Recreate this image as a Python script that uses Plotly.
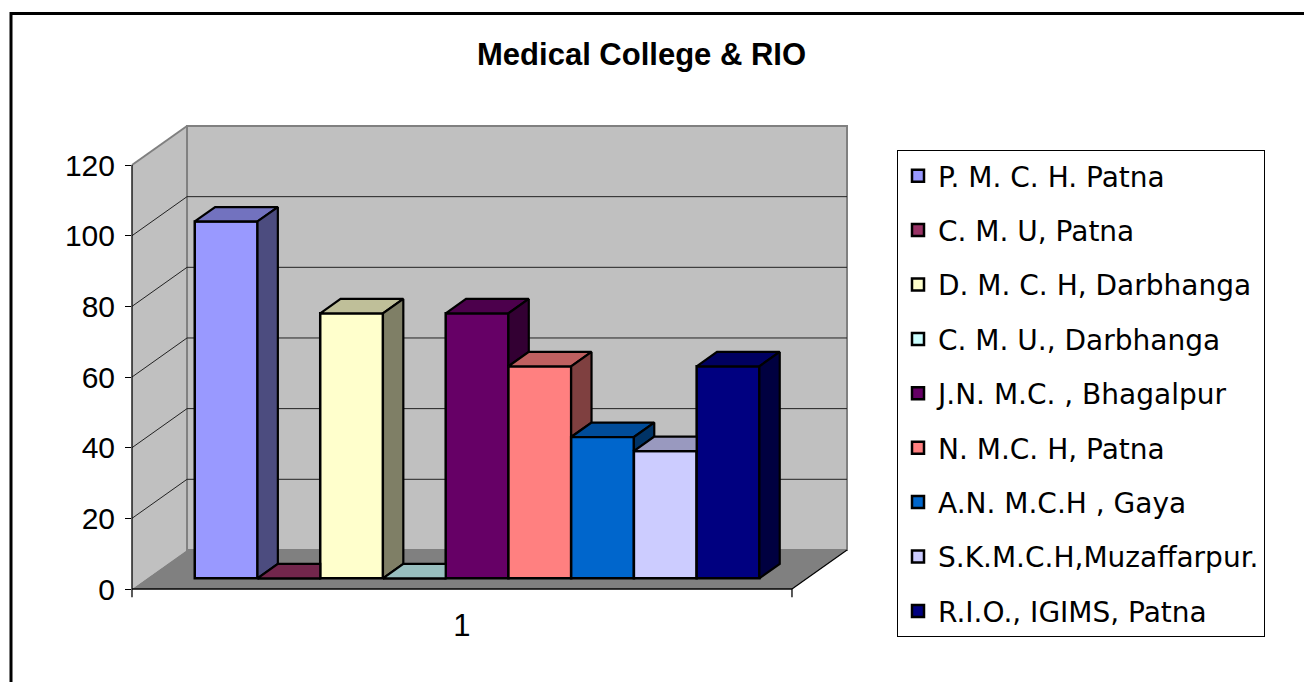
import plotly.graph_objects as go

# ---------------- data ----------------
categories = ["1"]
series_names = [
    "P. M. C. H. Patna",
    "C. M. U, Patna",
    "D. M. C. H, Darbhanga",
    "C. M. U., Darbhanga",
    "J.N. M.C. , Bhagalpur",
    "N. M.C. H, Patna",
    "A.N. M.C.H , Gaya",
    "S.K.M.C.H,Muzaffarpur.",
    "R.I.O., IGIMS, Patna",
]
values = [101, 0, 75, 0, 75, 60, 40, 36, 60]
colors = ["#9999FF", "#993366", "#FFFFCC", "#CCFFFF", "#660066",
          "#FF8080", "#0066CC", "#CCCCFF", "#000080"]
y_ticks = [0, 20, 40, 60, 80, 100, 120]
Y_MAX = 120

# ---------------- 3-D geometry (in axis units) ----------------
N = len(values)
GAP = 0.76                 # gap each side of the bar cluster (bar widths)
W = N + 2 * GAP            # category width on the floor front edge
DX, DY = 0.877, 11.05      # full floor depth vector (x units, value units)
F1, F2 = 0.274, 0.644      # front / back depth fraction of the bars
XR = W + DX
YR = Y_MAX + DY

bx, by = F1 * DX, F1 * DY
ddx, ddy = (F2 - F1) * DX, (F2 - F1) * DY


def shade(hexcol, k):
    h = hexcol.lstrip("#")
    r, g, b = (int(h[i:i + 2], 16) for i in (0, 2, 4))
    return "#%02X%02X%02X" % (int(r * k), int(g * k), int(b * k))


def P(x, v):
    return x / XR, v / YR


def path(pts):
    s = ""
    for j, (x, v) in enumerate(pts):
        px, py = P(x, v)
        s += ("M" if j == 0 else "L") + f"{px:.5f},{py:.5f}"
    return s + "Z"


fig = go.Figure()

# front faces (real bars, through the axes)
for i, (name, v, c) in enumerate(zip(series_names, values, colors)):
    xl = GAP + i + bx
    fig.add_trace(go.Bar(
        x=[xl + 0.5], y=[v], base=by, width=1, name=name,
        legendgroup=name,
        marker=dict(color=c, line=dict(color="black", width=2.5)),
        hoverinfo="name+y",
    ))

# top and side faces, derived from the same values
for i, (name, v, c) in enumerate(zip(series_names, values, colors)):
    xl = GAP + i + bx
    xr = xl + 1
    h = by + v
    nxt = values[i + 1] if i + 1 < N else 0
    if i + 1 < N and nxt > v:
        top = [(xl, h), (xr, h), (xr, h + ddy), (xl + ddx, h + ddy)]
    else:
        top = [(xl, h), (xr, h), (xr + ddx, h + ddy), (xl + ddx, h + ddy)]
    faces = [(top, shade(c, 0.75))]
    if v > nxt:
        low = by + nxt
        side = [(xr, low), (xr, h), (xr + ddx, h + ddy), (xr + ddx, low + ddy)]
        faces.append((side, shade(c, 0.5)))
    for poly, fc in faces:
        xs = [p[0] for p in poly] + [poly[0][0]]
        ys = [p[1] for p in poly] + [poly[0][1]]
        fig.add_trace(go.Scatter(
            x=xs, y=ys, mode="lines", fill="toself", fillcolor=fc,
            line=dict(color="black", width=2.2), showlegend=False,
            hoverinfo="skip", legendgroup=name,
        ))

# walls, floor, gridlines (decoration in paper coords)
shapes = []
WALL = "#C0C0C0"
shapes.append(dict(type="path", xref="paper", yref="paper", layer="below",
                   path=path([(0, 0), (0, Y_MAX), (DX, YR), (DX, DY)]),
                   fillcolor=WALL, line=dict(width=0)))
shapes.append(dict(type="path", xref="paper", yref="paper", layer="below",
                   path=path([(DX, DY), (XR, DY), (XR, YR), (DX, YR)]),
                   fillcolor=WALL, line=dict(color="#808080", width=2)))
shapes.append(dict(type="path", xref="paper", yref="paper", layer="below",
                   path=path([(0, 0), (W, 0), (XR, DY), (DX, DY)]),
                   fillcolor="#808080", line=dict(width=0)))
for t in y_ticks[1:-1]:
    x0, y0 = P(DX, t + DY)
    x1, y1 = P(XR, t + DY)
    shapes.append(dict(type="line", xref="paper", yref="paper", layer="below",
                       x0=x0, y0=y0, x1=x1, y1=y1,
                       line=dict(color="#222222", width=1)))
    xa, ya = P(0, t)
    shapes.append(dict(type="line", xref="paper", yref="paper", layer="below",
                       x0=xa, y0=ya, x1=x0, y1=y0,
                       line=dict(color="#222222", width=1)))
# side wall top edge
x0, y0 = P(0, Y_MAX)
x1, y1 = P(DX, YR)
shapes.append(dict(type="line", xref="paper", yref="paper", x0=x0, y0=y0, x1=x1, y1=y1,
                   line=dict(color="#808080", width=2)))
# floor right edge
x0, y0 = P(W, 0)
x1, y1 = P(XR, DY)
shapes.append(dict(type="line", xref="paper", yref="paper", x0=x0, y0=y0, x1=x1, y1=y1,
                   line=dict(color="black", width=1.2)))
# value axis line and category axis line with end ticks
TICK_DOWN = 2.3
for (ax0, av0, ax1, av1) in [(0, 0, 0, Y_MAX), (0, 0, W, 0),
                             (0, 0, 0, -TICK_DOWN), (W, 0, W, -TICK_DOWN)]:
    x0, y0 = P(ax0, av0)
    x1, y1 = P(ax1, av1)
    shapes.append(dict(type="line", xref="paper", yref="paper", x0=x0, y0=y0, x1=x1, y1=y1,
                       line=dict(color="black", width=1.3)))

# outer chart border
L, T, R, B = 132, 126, 847, 589
def px2paper(px, py):
    return (px - L) / (R - L), (B - py) / (B - T)
bx0, by0 = px2paper(11, 13.5)
bx1, by1 = px2paper(1320, 700)
shapes.append(dict(type="rect", xref="paper", yref="paper", x0=bx0, y0=by1, x1=bx1, y1=by0,
                   line=dict(color="black", width=3), fillcolor="rgba(0,0,0,0)"))

lgx, lgy = px2paper(897, 150)

fig.update_layout(
    width=1304, height=682,
    margin=dict(l=L, r=1304 - R, t=T, b=682 - B, autoexpand=False),
    paper_bgcolor="white", plot_bgcolor="rgba(0,0,0,0)",
    barmode="overlay",
    title=dict(text="<b>Medical College & RIO</b>", x=0.492, xanchor="center",
               y=1 - 54 / 682, yanchor="middle",
               font=dict(family="Liberation Sans, Arial", size=31, color="black")),
    xaxis=dict(range=[0, XR], tickvals=[W / 2], ticktext=categories, ticks="",
               showgrid=False, zeroline=False, showline=False, fixedrange=True,
               ticklabelstandoff=15,
               tickfont=dict(family="Liberation Sans, Arial", size=31, color="black")),
    yaxis=dict(range=[0, YR], tickvals=y_ticks, ticks="outside", ticklen=6,
               tickcolor="black", tickwidth=1.2, showgrid=False, zeroline=False,
               showline=False, fixedrange=True, ticklabelstandoff=4,
               tickfont=dict(family="Liberation Sans, Arial", size=30, color="black")),
    legend=dict(x=lgx, y=lgy, xanchor="left", yanchor="top",
                bgcolor="white", bordercolor="black", borderwidth=1,
                font=dict(family="DejaVu Sans", size=28, color="black"),
                tracegroupgap=15, traceorder="grouped", maxheight=640,
                entrywidth=400),
    shapes=shapes,
    showlegend=True,
)

fig.write_html("out.html", post_script="document.body.style.margin='0';",
               config={"displayModeBar": False})
